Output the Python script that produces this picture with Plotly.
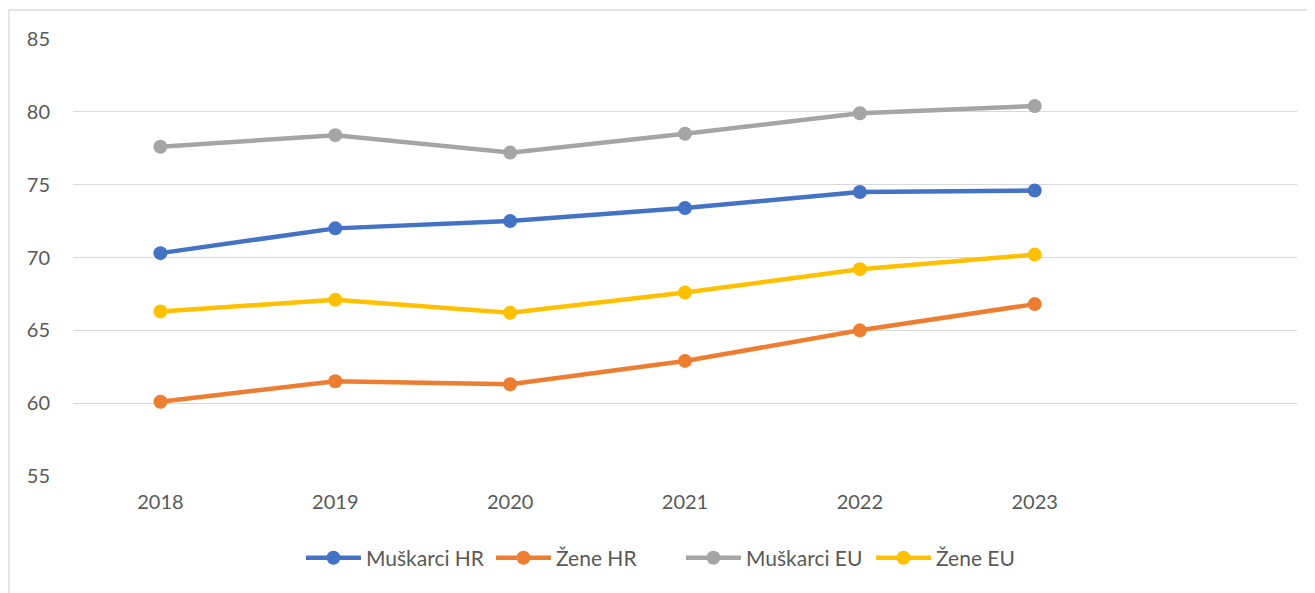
import plotly.graph_objects as go

years = ["2018", "2019", "2020", "2021", "2022", "2023"]
muskarci_hr = [70.3, 72.0, 72.5, 73.4, 74.5, 74.6]
zene_hr = [60.1, 61.5, 61.3, 62.9, 65.0, 66.8]
muskarci_eu = [77.6, 78.4, 77.2, 78.5, 79.9, 80.4]
zene_eu = [66.3, 67.1, 66.2, 67.6, 69.2, 70.2]

series = [
    ("Muškarci HR", muskarci_hr, "#4472C4"),
    ("Žene HR", zene_hr, "#ED7D31"),
    ("Muškarci EU", muskarci_eu, "#A5A5A5"),
    ("Žene EU", zene_eu, "#FFC000"),
]

x_idx = list(range(len(years)))
font_family = "Lato, 'Open Sans', sans-serif"
text_color = "#595959"

fig = go.Figure()
for name, vals, col in series:
    fig.add_trace(go.Scatter(
        x=x_idx, y=vals, name=name, mode="lines+markers",
        line=dict(color=col, width=4.5),
        marker=dict(color=col, size=14),
    ))

fig.update_layout(
    width=1307, height=585,
    margin=dict(l=65, r=18, t=31, b=117),
    paper_bgcolor="white", plot_bgcolor="white",
    font=dict(family=font_family, size=20, color=text_color),
    showlegend=True,
    legend=dict(orientation="h", x=0.4967, xanchor="center", y=-0.188, yanchor="middle",
                font=dict(size=21, color=text_color), itemwidth=55,
                entrywidth=120, entrywidthmode="pixels",
                tracegroupgap=0),
    xaxis=dict(
        tickmode="array", tickvals=x_idx, ticktext=years,
        range=[-0.5, 6.5], showgrid=False, zeroline=False, showline=False,
        ticks="", ticklabelstandoff=12, fixedrange=True,
    ),
    yaxis=dict(
        range=[55, 85], dtick=5, tick0=55, showgrid=True, gridcolor="#D9D9D9", gridwidth=1.3,
        zeroline=False, showline=False, ticks="", ticklabelstandoff=22,
    ),
    shapes=[dict(type="rect", xref="paper", yref="paper",
                 x0=(9 - 73) / 1224, x1=1.1, y0=-0.4, y1=(476 - 10) / 437,
                 line=dict(color="#D9D9D9", width=1.3), fillcolor="rgba(0,0,0,0)", layer="below")],
)

fig.write_html("out.html")
